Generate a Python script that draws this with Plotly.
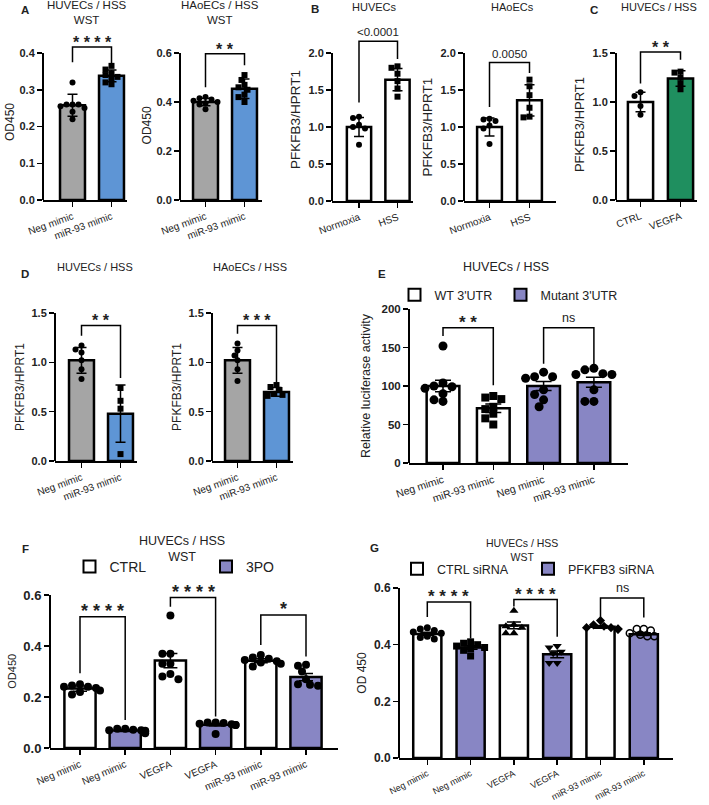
import plotly.graph_objects as go

W, H = 709, 805
FONT = "Liberation Sans, Arial, sans-serif"
GRAY = "#a5a5a5"
BLUE = "#5e95d5"
GREEN = "#1f8f5f"
PURPLE = "#8886c4"
WHITE = "#ffffff"

# ---- values ----
A_LABELS = ["Neg mimic", "miR-93 mimic"]
A1_MEAN = [0.258, 0.338]
A1_SD = [0.030, 0.016]
A1_NEG = [0.32, 0.26, 0.26, 0.26, 0.255, 0.25, 0.24, 0.22]
A1_MIR = [0.365, 0.355, 0.345, 0.34, 0.335, 0.33, 0.32, 0.315]
A1_YTICKS = [0.0, 0.1, 0.2, 0.3, 0.4]

A2_MEAN = [0.400, 0.454]
A2_SD = [0.015, 0.040]
A2_NEG = [0.42, 0.415, 0.41, 0.405, 0.40, 0.395, 0.39, 0.37]
A2_MIR = [0.51, 0.49, 0.47, 0.46, 0.45, 0.43, 0.42, 0.40]
A2_YTICKS = [0.0, 0.2, 0.4, 0.6]

B_LABELS = ["Normoxia", "HSS"]
B1_MEAN = [1.0, 1.64]
B1_SD = [0.13, 0.15]
B1_NORM = [1.14, 1.12, 1.03, 1.0, 0.98, 0.76]
B1_HSS = [1.82, 1.80, 1.72, 1.62, 1.52, 1.41]
B2_MEAN = [1.0, 1.36]
B2_SD = [0.12, 0.21]
B2_NORM = [1.11, 1.10, 1.08, 1.02, 0.98, 0.77]
B2_HSS = [1.64, 1.55, 1.43, 1.26, 1.14, 1.13]
B_YTICKS = [0.0, 0.5, 1.0, 1.5, 2.0]

C_LABELS = ["CTRL", "VEGFA"]
C_MEAN = [1.0, 1.24]
C_SD = [0.10, 0.08]
C_CTRL = [1.10, 1.06, 0.96, 0.87]
C_VEGFA = [1.31, 1.30, 1.25, 1.19, 1.13]
CD_YTICKS = [0.0, 0.5, 1.0, 1.5]

D1_MEAN = [1.02, 0.48]
D1_SD = [0.13, 0.29]
D1_NEG = [1.17, 1.13, 1.10, 1.02, 0.93, 0.83]
D1_MIR = [0.74, 0.61, 0.53, 0.07]
D2_MEAN = [1.02, 0.70]
D2_SD = [0.13, 0.045]
D2_NEG = [1.19, 1.12, 1.07, 1.02, 0.93, 0.81]
D2_MIR = [0.77, 0.75, 0.72, 0.68, 0.67, 0.66]

E_LABELS = ["Neg mimic", "miR-93 mimic", "Neg mimic", "miR-93 mimic"]
E_SERIES = ["WT 3'UTR", "Mutant 3'UTR"]
E_MEAN = [100.0, 71.0, 100.0, 105.0]
E_SEM = [7.5, 5.5, 6.0, 6.5]
E_WT_NEG = [152, 104, 100, 99, 97, 90, 82, 80]
E_WT_MIR = [87, 85, 83, 73, 70, 64, 58, 50]
E_MUT_NEG = [118, 112, 112, 110, 95, 89, 82, 73]
E_MUT_MIR = [123, 121, 116, 115, 115, 95, 80, 80]
E_YTICKS = [0, 50, 100, 150, 200]

F_LABELS = ["Neg mimic", "Neg mimic", "VEGFA", "VEGFA", "miR-93 mimic", "miR-93 mimic"]
F_SERIES = ["CTRL", "3PO"]
F_MEAN = [0.233, 0.069, 0.343, 0.091, 0.342, 0.278]
F_SEM = [0.010, 0.004, 0.028, 0.005, 0.008, 0.014]
F_NEG_CTRL = [0.25, 0.245, 0.24, 0.24, 0.235, 0.225, 0.22, 0.21]
F_NEG_3PO = [0.075, 0.075, 0.072, 0.07, 0.07, 0.068, 0.065, 0.058]
F_VEGFA_CTRL = [0.52, 0.37, 0.37, 0.33, 0.33, 0.29, 0.28, 0.27]
F_VEGFA_3PO = [0.10, 0.10, 0.098, 0.095, 0.093, 0.09, 0.09, 0.055]
F_MIR_CTRL = [0.365, 0.355, 0.35, 0.345, 0.34, 0.335, 0.33, 0.32]
F_MIR_3PO = [0.326, 0.323, 0.30, 0.27, 0.25, 0.248, 0.244]

G_LABELS = F_LABELS
G_SERIES = ["CTRL siRNA", "PFKFB3 siRNA"]
G_MEAN = [0.438, 0.390, 0.468, 0.366, 0.463, 0.437]
G_SEM = [0.006, 0.006, 0.012, 0.012, 0.005, 0.005]
G_NEG_CTRL = [0.46, 0.455, 0.45, 0.445, 0.44, 0.43, 0.425, 0.42]
G_NEG_SI = [0.41, 0.405, 0.40, 0.395, 0.39, 0.385, 0.38, 0.36]
G_VEGFA_CTRL = [0.52, 0.47, 0.465, 0.46, 0.44, 0.44]
G_VEGFA_SI = [0.395, 0.39, 0.375, 0.37, 0.335, 0.335]
G_MIR_CTRL = [0.485, 0.47, 0.465, 0.46, 0.46, 0.455, 0.455, 0.455]
G_MIR_SI = [0.455, 0.455, 0.45, 0.44, 0.435, 0.43, 0.43]
FG_YTICKS = [0.0, 0.2, 0.4, 0.6]

# significance brackets: left bar, right bar, top, left foot, right foot, label
A1_SIG = [(0, 1, 0.416, 0.375, 0.372, "* * * *")]
A2_SIG = [(0, 1, 0.597, 0.46, 0.55, "* *")]
B1_SIG = [(0, 1, 2.16, 1.33, 1.92, "<0.0001")]
B2_SIG = [(0, 1, 1.87, 1.27, 1.73, "0.0050")]
C_SIG = [(0, 1, 1.51, 1.19, 1.43, "* *")]
D1_SIG = [(0, 1, 1.374, 1.27, 0.84, "* *")]
D2_SIG = [(0, 1, 1.374, 1.29, 0.80, "* * *")]
E_SIG = [(0, 1, 175.7, 165, 101, "* *"), (2, 3, 175.7, 129, 126, "ns")]
F_SIG = [(0, 1, 0.515, 0.293, 0.11, "* * * *"), (2, 3, 0.59, 0.554, 0.124, "* * * *"),
         (4, 5, 0.522, 0.404, 0.359, "*")]
G_SIG = [(0, 1, 0.551, 0.498, 0.422, "* * * *"), (2, 3, 0.559, 0.535, 0.428, "* * * *"),
         (4, 5, 0.565, 0.496, 0.496, "ns")]

fig = go.Figure()


def swarm(vals, d, ppx, ppy):
    # spread overlapping dots sideways, like a prism scatter
    placed, offs = [], []
    for v in vals:
        yp = v * ppy
        xp = 0
        for k in (0, -1, 1, -2, 2, -3, 3, -4, 4, -5, 5):
            xp = k * d * 0.5
            if all((xp - a) ** 2 + (yp - b) ** 2 >= (0.85 * d) ** 2 for a, b in placed):
                break
        placed.append((xp, yp))
        offs.append(xp / ppx)
    return offs


def add_panel(n, g, labels, means, errs, pts, bars, marks, yticks, ytitle, sig):
    s = "" if n == 1 else str(n)
    xr, yr = "x" + s, "y" + s
    ytop = yticks[-1]
    ppy = (g["base"] - g["top"]) / ytop
    ymax = max([ytop] + [b[2] * 1.02 for b in sig])
    dom_top = g["base"] - ymax * ppy
    fig.update_layout(**{
        "xaxis" + s: dict(
            domain=[g["l"] / W, g["r"] / W],
            range=[(g["l"] - g["c0"]) / g["step"], (g["r"] - g["c0"]) / g["step"]],
            anchor=yr, tickmode="array", tickvals=list(range(len(labels))), ticktext=labels,
            tickangle=g["angle"], ticks="outside", ticklen=5, tickwidth=1.5, tickcolor="black",
            showline=True, linewidth=2, linecolor="black", showgrid=False, zeroline=False,
            automargin=False, tickfont=dict(size=g["xfs"], color="#222")),
        "yaxis" + s: dict(
            domain=[1 - g["base"] / H, 1 - dom_top / H], range=[0, ymax], anchor=xr,
            tickmode="array", tickvals=yticks, tickformat=g["fmt"], ticks="outside",
            ticklen=5, tickwidth=1.5, tickcolor="black", showline=False, showgrid=False,
            zeroline=False, automargin=False,
            tickfont=dict(size=g["yfs"], weight="bold", color="#222"),
            title=dict(text=ytitle, font=dict(size=g["tfs"], color="#222"), standoff=g["so"])),
    })
    for b in bars:
        idx = b["idx"]
        fig.add_trace(go.Bar(
            x=idx, y=[means[i] for i in idx], width=g["bw"],
            marker=dict(color=b["color"], line=dict(color="black", width=2.5)),
            error_y=dict(type="data", array=[errs[i] for i in idx], color="black",
                         thickness=1.5, width=g["cap"]),
            name=b.get("name", ""), showlegend="name" in b,
            legend=b.get("legend", "legend"), xaxis=xr, yaxis=yr, hoverinfo="skip"))
    for i, vals in enumerate(pts):
        m = marks[i]
        offs = swarm(vals, m["size"], g["step"], ppy)
        fig.add_trace(go.Scatter(
            x=[i + o for o in offs], y=vals, mode="markers",
            marker=dict(symbol=m["symbol"], size=m["size"], color=m.get("fill", "black"),
                        line=dict(color="black", width=m.get("lw", 0))),
            showlegend=False, xaxis=xr, yaxis=yr, cliponaxis=False, hoverinfo="skip"))
    # y axis line only up to the top tick, brackets may sit above it
    fig.add_shape(type="line", xref=xr + " domain", yref=yr, x0=0, x1=0, y0=0, y1=ytop,
                  line=dict(color="black", width=2))
    for a, b, top, fl, fr, txt in sig:
        fig.add_shape(type="path", xref=xr, yref=yr,
                      path=f"M{a},{fl} L{a},{top} L{b},{top} L{b},{fr}",
                      line=dict(color="black", width=1.5))
        star = "*" in txt
        fig.add_annotation(xref=xr, yref=yr, x=(a + b) / 2, y=top, text=txt, showarrow=False,
                           yanchor="bottom", yshift=-6 if star else 1,
                           font=dict(size=g["sfs"] if star else g["pfs"], color="#222",
                                     weight="bold" if star else "normal"))


def note(x, y, text, size, bold=False):
    fig.add_annotation(xref="paper", yref="paper", x=x / W, y=1 - y / H, text=text,
                       showarrow=False, xanchor="center", yanchor="middle",
                       font=dict(size=size, color="#222", weight="bold" if bold else "normal"))


circle = dict(symbol="circle", size=6)
square = dict(symbol="square", size=6)
small = dict(angle=-20, xfs=10, yfs=11, fmt=".1f", cap=5, sfs=16, pfs=11.5)

add_panel(1, dict(l=43, r=127, base=200, top=53, c0=72.5, step=39, bw=0.64, tfs=12, so=2, **small),
          A_LABELS, A1_MEAN, A1_SD, [A1_NEG, A1_MIR],
          [dict(idx=[0], color=GRAY), dict(idx=[1], color=BLUE)], [circle, square],
          A1_YTICKS, "OD450", A1_SIG)
add_panel(2, dict(l=180, r=262, base=200, top=53, c0=205.5, step=39, bw=0.64, tfs=12, so=2, **small),
          A_LABELS, A2_MEAN, A2_SD, [A2_NEG, A2_MIR],
          [dict(idx=[0], color=GRAY), dict(idx=[1], color=BLUE)], [circle, square],
          A2_YTICKS, "OD450", A2_SIG)
add_panel(3, dict(l=332, r=413, base=201, top=53, c0=359, step=38.5, bw=0.63, tfs=13.5, so=4, **small),
          B_LABELS, B1_MEAN, B1_SD, [B1_NORM, B1_HSS],
          [dict(idx=[0], color=WHITE), dict(idx=[1], color=WHITE)], [circle, square],
          B_YTICKS, "PFKFB3/HPRT1", B1_SIG)
add_panel(4, dict(l=464, r=556, base=201, top=53, c0=489.5, step=40, bw=0.62, tfs=13.5, so=4, **small),
          B_LABELS, B2_MEAN, B2_SD, [B2_NORM, B2_HSS],
          [dict(idx=[0], color=WHITE), dict(idx=[1], color=WHITE)], [circle, square],
          B_YTICKS, "PFKFB3/HPRT1", B2_SIG)
add_panel(5, dict(l=616, r=697, base=200, top=53, c0=640.5, step=40, bw=0.63, tfs=13, so=4, **small),
          C_LABELS, C_MEAN, C_SD, [C_CTRL, C_VEGFA],
          [dict(idx=[0], color=WHITE), dict(idx=[1], color=GREEN)], [circle, square],
          CD_YTICKS, "PFKFB3/HPRT1", C_SIG)
add_panel(6, dict(l=55, r=137, base=461, top=313, c0=81.5, step=39, bw=0.64, tfs=12, so=4, **small),
          A_LABELS, D1_MEAN, D1_SD, [D1_NEG, D1_MIR],
          [dict(idx=[0], color=GRAY), dict(idx=[1], color=BLUE)], [circle, square],
          CD_YTICKS, "PFKFB3/HPRT1", D1_SIG)
add_panel(7, dict(l=212, r=293, base=461, top=313, c0=237.5, step=39, bw=0.64, tfs=12, so=4, **small),
          A_LABELS, D2_MEAN, D2_SD, [D2_NEG, D2_MIR],
          [dict(idx=[0], color=GRAY), dict(idx=[1], color=BLUE)], [circle, square],
          CD_YTICKS, "PFKFB3/HPRT1", D2_SIG)

big_c = dict(symbol="circle", size=9)
big_s = dict(symbol="square", size=8)
add_panel(8, dict(l=409, r=628, base=463, top=309, c0=443, step=50.3, bw=0.65, angle=-18, xfs=10.5,
                  yfs=11.5, fmt="d", cap=8, sfs=17, pfs=12.5, tfs=12.5, so=8),
          E_LABELS, E_MEAN, E_SEM, [E_WT_NEG, E_WT_MIR, E_MUT_NEG, E_MUT_MIR],
          [dict(idx=[0, 1], color=WHITE, name=E_SERIES[0], legend="legend"),
           dict(idx=[2, 3], color=PURPLE, name=E_SERIES[1], legend="legend2")],
          [big_c, big_s, big_c, big_c], E_YTICKS, "Relative luciferase activity", E_SIG)

f_c = dict(symbol="circle", size=8)
add_panel(9, dict(l=50, r=338, base=748, top=595, c0=80, step=45.2, bw=0.69, angle=-23, xfs=10,
                  yfs=13, fmt=".1f", cap=7, sfs=18, pfs=13, tfs=11, so=4),
          F_LABELS, F_MEAN, F_SEM,
          [F_NEG_CTRL, F_NEG_3PO, F_VEGFA_CTRL, F_VEGFA_3PO, F_MIR_CTRL, F_MIR_3PO],
          [dict(idx=[0, 2, 4], color=WHITE, name=F_SERIES[0], legend="legend3"),
           dict(idx=[1, 3, 5], color=PURPLE, name=F_SERIES[1], legend="legend4")],
          [f_c] * 6, FG_YTICKS, "OD450", F_SIG)

add_panel(10, dict(l=399, r=673, base=758, top=588, c0=427.3, step=43.3, bw=0.65, angle=-27, xfs=9,
                   yfs=12, fmt=".1f", cap=7, sfs=17, pfs=12.5, tfs=12, so=4),
          G_LABELS, G_MEAN, G_SEM,
          [G_NEG_CTRL, G_NEG_SI, G_VEGFA_CTRL, G_VEGFA_SI, G_MIR_CTRL, G_MIR_SI],
          [dict(idx=[0, 2, 4], color=WHITE, name=G_SERIES[0], legend="legend5"),
           dict(idx=[1, 3, 5], color=PURPLE, name=G_SERIES[1], legend="legend6")],
          [dict(symbol="circle", size=7), dict(symbol="square", size=7),
           dict(symbol="triangle-up", size=8), dict(symbol="triangle-down", size=8),
           dict(symbol="diamond", size=7), dict(symbol="circle-open", size=7, lw=1.5)],
          FG_YTICKS, "OD 450", G_SIG)

# panel titles and letters
note(87, 13, "HUVECs / HSS<br>WST", 11.5)
note(220, 13, "HAoECs / HSS<br>WST", 11.5)
note(375, 7, "HUVECs", 11)
note(512, 7, "HAoECs", 11)
note(659, 7, "HUVECs / HSS", 11)
note(95, 267, "HUVECs / HSS", 11)
note(250, 267, "HAoECs / HSS", 11)
note(506, 267, "HUVECs / HSS", 12.5)
note(182, 549, "HUVECs / HSS<br>WST", 12.5)
note(522, 550, "HUVECs / HSS<br>WST", 10.5)
for x, y, t in [(25, 10, "A"), (315, 9, "B"), (594, 10, "C"), (25, 274, "D"),
                (382, 274, "E"), (25, 549, "F"), (375, 548, "G")]:
    note(x, y, t, 11.5, bold=True)

# one legend per entry so each box sits where the reference has it
leg = dict(orientation="h", xanchor="left", yanchor="middle", bgcolor="rgba(0,0,0,0)",
           itemwidth=30, itemsizing="constant")
legend_spots = [(416, 295, 12.5), (522, 295, 12.5),
                (91, 567, 14), (227.5, 567, 14),
                (418.5, 569, 12.5), (549.5, 569, 12.5)]
for k, (lx, ly, fsz) in enumerate(legend_spots):
    name = "legend" if k == 0 else f"legend{k + 1}"
    fig.update_layout(**{name: dict(x=(lx - 21.5) / W, y=1 - ly / H,
                                    font=dict(size=fsz, color="#222"), **leg)})

fig.update_layout(
    barmode="overlay",
    width=W, height=H,
    margin=dict(l=0, r=0, t=0, b=0),
    paper_bgcolor="white", plot_bgcolor="white",
    font=dict(family=FONT, color="#222"),
)

# the page body has a default 8px margin; drop it so the figure fills the window
fig.write_html("out.html", config={"displayModeBar": False, "staticPlot": True},
               post_script="document.body.style.margin = '0px';")
